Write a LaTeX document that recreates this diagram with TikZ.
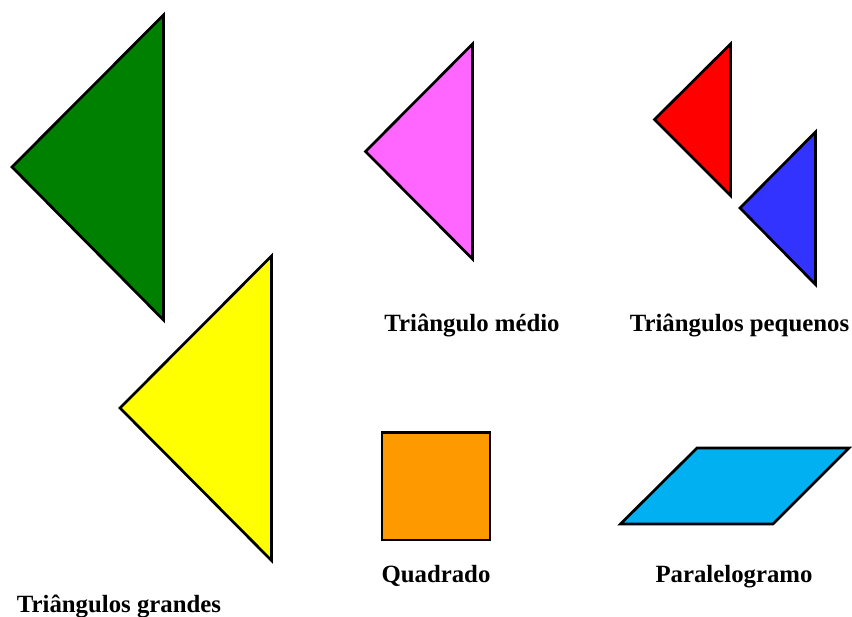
\documentclass[tikz,border=0pt]{standalone}
\usepackage{fontspec}
\setmainfont{Liberation Serif}
\definecolor{tgreen}{HTML}{008000}
\definecolor{tyellow}{HTML}{FFFF00}
\definecolor{tpink}{HTML}{FF66FF}
\definecolor{tred}{HTML}{FF0000}
\definecolor{tblue}{HTML}{3333FF}
\definecolor{torange}{HTML}{FF9900}
\definecolor{tcyan}{HTML}{00B0F0}

\begin{document}
\begin{tikzpicture}[
  x=1pt, y=-1pt,
  piece/.style={draw=black, line width=2.7pt},
  lbl/.style={anchor=base, inner sep=0pt, font=\fontsize{24.8}{29}\selectfont\bfseries}
]
\useasboundingbox (0,0) rectangle (852,617);

% triangulos grandes
\draw[piece, fill=tgreen] (163.5,15) -- (12,167) -- (163.5,320) -- cycle;
\draw[piece, fill=tyellow] (271.5,256) -- (120,408) -- (271.5,560.5) -- cycle;
% triangulo medio
\draw[piece, fill=tpink] (472.5,44) -- (365.5,151.5) -- (472.5,259) -- cycle;
% triangulos pequenos
\draw[piece, fill=tred] (730.5,44) -- (654.5,119.5) -- (730.5,195.5) -- cycle;
\draw[piece, fill=tblue] (815.5,132) -- (740,208) -- (815.5,284.5) -- cycle;
% quadrado e paralelogramo
\draw[piece, fill=torange] (382,432.5) rectangle (490,540);
\draw[piece, fill=tcyan] (697,448) -- (849,448) -- (773,524) -- (620.5,524) -- cycle;

\node[lbl] (medio) at (472,332) {Triângulo médio};
\node[lbl] (pequenos) at (739.5,332) {Triângulos pequenos};
\node[lbl] (quadrado) at (436,582) {Quadrado};
\node[lbl] (paralelo) at (734,582) {Paralelogramo};
\node[lbl] (grandes) at (119,612) {Triângulos grandes};
\end{tikzpicture}
\end{document}
